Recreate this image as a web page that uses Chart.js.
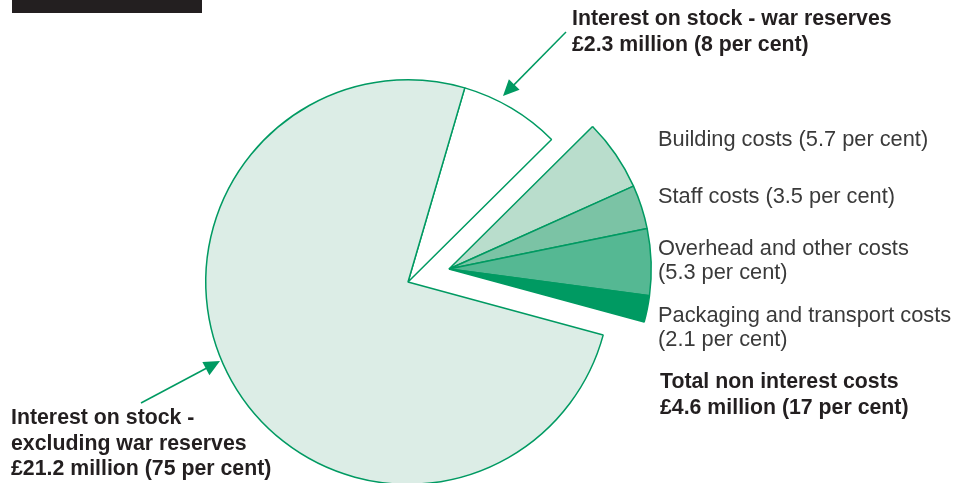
<!DOCTYPE html>
<html>
<head>
<meta charset="utf-8">
<script src="https://cdn.jsdelivr.net/npm/chart.js@4.4.1/dist/chart.umd.min.js"></script>
<style>
  html, body { margin: 0; padding: 0; background: #fff; overflow: hidden; width: 964px; height: 483px; }
  .layer { position: absolute; left: 0; top: 0; }
  .bar { position: absolute; left: 12px; top: 0; width: 190px; height: 13px; background: #231f20; }
  .lbl { position: absolute; font-family: "Liberation Sans", Arial, sans-serif; white-space: nowrap; }
  .bold { font-weight: bold; font-size: 21.3px; line-height: 25.5px; color: #231f20; }
  .reg { font-size: 21.8px; line-height: 24px; color: #3a3a3a; }
</style>
</head>
<body>
<div class="bar"></div>
<canvas id="basePie" class="layer" width="964" height="490"></canvas>
<canvas id="costPie" class="layer" width="964" height="490"></canvas>

<div class="lbl bold" style="left:572px; top:6px;">Interest on stock - war reserves<br>£2.3 million (8 per cent)</div>
<div class="lbl reg" style="left:658px; top:127px;">Building costs (5.7 per cent)</div>
<div class="lbl reg" style="left:658px; top:183.5px;">Staff costs (3.5 per cent)</div>
<div class="lbl reg" style="left:658px; top:235.5px;">Overhead and other costs<br>(5.3 per cent)</div>
<div class="lbl reg" style="left:658px; top:303px;">Packaging and transport costs<br>(2.1 per cent)</div>
<div class="lbl bold" style="left:660px; top:369px;">Total non interest costs<br>£4.6 million (17 per cent)</div>
<div class="lbl bold" style="left:11px; top:405px;">Interest on stock -<br>excluding war reserves<br>£21.2 million (75 per cent)</div>

<script>
// cost breakdown, percentage of total
const categories = [
  "Interest on stock - war reserves",
  "Building costs",
  "Staff costs",
  "Overhead and other costs",
  "Packaging and transport costs",
  "Interest on stock - excluding war reserves"
];
const shares = [8, 5.7, 3.5, 5.3, 2.1, 75];
const sliceColors = ["#ffffff", "#b9ddcc", "#7bc3a5", "#55b893", "#009a62", "#dcede6"];
// which slices belong to the pulled-out non interest group
const nonInterest = [false, true, true, true, true, false];

const GREEN = "#009a62";
const NONE = "rgba(0,0,0,0)";

function arrow(ctx, x1, y1, x2, y2) {
  const a = Math.atan2(y2 - y1, x2 - x1);
  const len = 16, half = 7.5;
  ctx.save();
  ctx.strokeStyle = GREEN;
  ctx.fillStyle = GREEN;
  ctx.lineWidth = 1.5;
  ctx.beginPath();
  ctx.moveTo(x1, y1);
  ctx.lineTo(x2 - Math.cos(a) * len * 0.8, y2 - Math.sin(a) * len * 0.8);
  ctx.stroke();
  ctx.beginPath();
  ctx.moveTo(x2, y2);
  ctx.lineTo(x2 - Math.cos(a) * len - Math.sin(a) * half, y2 - Math.sin(a) * len + Math.cos(a) * half);
  ctx.lineTo(x2 - Math.cos(a) * len + Math.sin(a) * half, y2 - Math.sin(a) * len - Math.cos(a) * half);
  ctx.closePath();
  ctx.fill();
  ctx.restore();
}

const pointers = {
  id: "pointers",
  afterDraw(chart) {
    const ctx = chart.ctx;
    arrow(ctx, 566, 32, 503, 96);
    arrow(ctx, 141, 403, 220, 361);
  }
};

function makePie(id, showGroup, padding, plugins) {
  return new Chart(document.getElementById(id), {
    type: "pie",
    data: {
      labels: categories,
      datasets: [{
        data: shares,
        backgroundColor: sliceColors.map((c, i) => nonInterest[i] === showGroup ? c : NONE),
        borderColor: nonInterest.map(g => g === showGroup ? GREEN : NONE),
        borderWidth: nonInterest.map(g => g === showGroup ? 1.5 : 0)
      }]
    },
    options: {
      responsive: false,
      animation: false,
      rotation: 16.3,
      layout: { padding: padding },
      plugins: { legend: { display: false }, tooltip: { enabled: false } },
      events: []
    },
    plugins: plugins
  });
}

// interest slices around the main centre
makePie("basePie", false, { left: 205, top: 79, right: 353, bottom: 5 }, []);
// non interest slices pulled out to the upper right
makePie("costPie", true, { left: 246, top: 66, right: 312, bottom: 18 }, [pointers]);
</script>
</body>
</html>
